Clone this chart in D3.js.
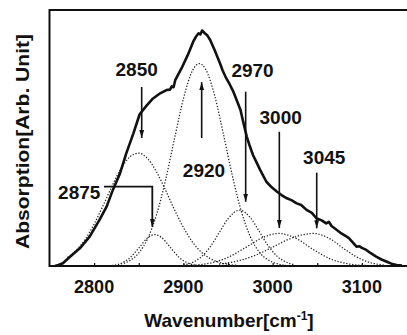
<!DOCTYPE html>
<html><head><meta charset="utf-8">
<script src="https://cdn.jsdelivr.net/npm/d3@7"></script>
<style>
html,body{margin:0;padding:0;background:#fff;}
svg{display:block;font-family:"Liberation Sans",Arial,Helvetica,sans-serif;font-weight:bold;}
</style>
</head><body>
<svg id="chart" width="407" height="335"></svg>
<script>
// ---------- data ----------
const xTicks = [2800, 2900, 3000, 3100];
const xTickLabels = ["2800", "2900", "3000", "3100"];
const xMinorTicks = [2850, 2950, 3050];

// measured spectrum (solid line)
const spectrumX = [2756,2760,2765,2773,2784,2795,2806,2814,2821,2829,2836,2844,2851,2859,2866,2874,2881,2885,2887,2889,2891,2898,2905,2911,2914,2917,2919,2921,2924,2927,2930,2935,2941,2944,2948,2952,2956,2960,2964,2967,2971,2974,2978,2982,2986,2993,2999,3005,3010,3016,3021,3027,3032,3038,3044,3049,3055,3060,3063,3066,3072,3077,3083,3086,3089,3094,3097,3100,3105,3110,3116,3122,3128,3133,3139,3145];
const spectrumY = [0,0.004,0.012,0.04,0.076,0.126,0.198,0.255,0.327,0.398,0.484,0.57,0.652,0.69,0.72,0.742,0.756,0.758,0.772,0.768,0.80,0.85,0.907,0.964,0.985,1.0,0.995,1.012,1.0,0.99,0.971,0.928,0.871,0.84,0.807,0.78,0.749,0.71,0.67,0.62,0.556,0.52,0.477,0.445,0.413,0.362,0.338,0.319,0.305,0.291,0.283,0.269,0.262,0.241,0.228,0.205,0.196,0.183,0.19,0.172,0.155,0.14,0.126,0.118,0.105,0.083,0.085,0.078,0.069,0.055,0.04,0.028,0.018,0.01,0.004,0.002];

// fitted component bands (dotted lines)
const band2850X = [2770,2780,2790,2800,2810,2820,2830,2840,2850,2860,2870,2880,2890,2900,2910,2920,2930,2940,2950,2960];
const band2850Y = [0.037,0.068,0.115,0.180,0.259,0.343,0.418,0.469,0.485,0.461,0.404,0.326,0.242,0.166,0.104,0.060,0.032,0.016,0.007,0.003];

const band2875X = [2820,2830,2840,2850,2860,2868,2875,2885,2895,2905,2915];
const band2875Y = [0.0025,0.011,0.035,0.077,0.121,0.135,0.124,0.082,0.038,0.013,0.003];

const band2920X = [2830,2840,2850,2860,2870,2880,2890,2900,2910,2918,2925,2935,2945,2955,2965,2975,2985,2995,3005,3015];
const band2920Y = [0.009,0.023,0.056,0.118,0.221,0.369,0.546,0.718,0.838,0.87,0.845,0.733,0.564,0.386,0.234,0.126,0.060,0.026,0.010,0.003];

const band2970X = [2900,2910,2920,2930,2940,2950,2963,2975,2985,2995,3005,3015,3025];
const band2970Y = [0.005,0.015,0.039,0.082,0.142,0.203,0.24,0.208,0.149,0.087,0.042,0.017,0.005];

const band3000X = [2910,2930,2950,2970,2990,3007,3025,3045,3065,3085,3105];
const band3000Y = [0.003,0.0125,0.037,0.080,0.124,0.14,0.121,0.072,0.030,0.009,0.002];

const band3045X = [2940,2960,2980,3000,3020,3046,3065,3080,3095,3110,3125];
const band3045Y = [0.008,0.021,0.045,0.081,0.118,0.14,0.115,0.074,0.037,0.014,0.004];

// annotations
const peakLabels = ["2850", "2920", "2970", "3000", "3045"];
const arrowX = [2853.3, 2920.5, 2969.8, 3007.5, 3049.4];
const arrowFrom = [0.769, 0.55, 0.749, 0.577, 0.401];
const arrowTo = [0.55, 0.79, 0.276, 0.163, 0.162];
const labelX = [2847.7, 2923.1, 2977.5, 3009, 3057.8];
const labelY = [0.816, 0.384, 0.814, 0.61, 0.438];

const elbowLabel = "2875";
const elbowLabelX = 2783.3, elbowLabelY = 0.287;
const elbowX = [2811, 2865.2, 2865.2];
const elbowY = [0.341, 0.341, 0.169];

// ---------- layout ----------
const svg = d3.select("#chart");
const x = d3.scaleLinear().domain([2750, 3150]).range([49.5, 406.5]);
const y = d3.scaleLinear().domain([0, 1.1]).range([266, 10]);

const defs = svg.append("defs");
defs.append("marker").attr("id", "ah")
  .attr("markerUnits", "userSpaceOnUse")
  .attr("markerWidth", 9).attr("markerHeight", 6)
  .attr("refX", 8).attr("refY", 3).attr("orient", "auto")
  .append("path").attr("d", "M0,0.6 L8,3 L0,5.4 Z").attr("fill", "#111");

// frame
svg.append("path")
  .attr("d", `M${x(3150)+4},${y.range()[1]} L${x(2750)},${y.range()[1]} L${x(2750)},${y(0)} L${x(3150)+4},${y(0)}`)
  .attr("fill", "none").attr("stroke", "#111").attr("stroke-width", 2);

// ticks
const xAxis = d3.axisBottom(x).tickValues(xTicks.concat(xMinorTicks)).tickSize(-3).tickFormat("");
const gx = svg.append("g").attr("transform", `translate(0,${y(0)})`).call(xAxis);
gx.select(".domain").remove();
gx.selectAll(".tick line").attr("stroke", "#111").attr("stroke-width", 1.2);

svg.append("g").selectAll("text").data(xTicks).join("text")
  .attr("x", d => x(d)).attr("y", 293)
  .attr("text-anchor", "middle").attr("font-size", 18).attr("fill", "#111")
  .text((d, i) => xTickLabels[i]);

// bands
const bands = [[band2850X, band2850Y],[band2875X, band2875Y],[band2920X, band2920Y],[band2970X, band2970Y],[band3000X, band3000Y],[band3045X, band3045Y]];
const line = d3.line().x(d => x(d[0])).y(d => y(d[1])).curve(d3.curveMonotoneX);
svg.append("g").selectAll("path").data(bands).join("path")
  .attr("d", b => line(b[0].map((v, i) => [v, b[1][i]])))
  .attr("fill", "none").attr("stroke", "#222").attr("stroke-width", 1.25)
  .attr("stroke-dasharray", "1.3,1.7");

// spectrum
const spec = spectrumX.map((v, i) => [v, spectrumY[i]]);
svg.append("path").attr("d", d3.line().x(d => x(d[0])).y(d => y(d[1]))(spec))
  .attr("fill", "none").attr("stroke", "#111").attr("stroke-width", 2.6)
  .attr("stroke-linejoin", "round");

// arrows
svg.append("g").selectAll("line").data(arrowX).join("line")
  .attr("x1", d => x(d)).attr("x2", d => x(d))
  .attr("y1", (d, i) => y(arrowFrom[i])).attr("y2", (d, i) => y(arrowTo[i]))
  .attr("stroke", "#111").attr("stroke-width", 1.6).attr("marker-end", "url(#ah)");

svg.append("g").selectAll("text").data(peakLabels).join("text")
  .attr("x", (d, i) => x(labelX[i])).attr("y", (d, i) => y(labelY[i]))
  .attr("text-anchor", "middle").attr("font-size", 19).attr("fill", "#111")
  .text(d => d);

// elbow arrow for 2875
svg.append("path")
  .attr("d", d3.line().x(d => x(d[0])).y(d => y(d[1]))(elbowX.map((v, i) => [v, elbowY[i]])))
  .attr("fill", "none").attr("stroke", "#111").attr("stroke-width", 1.8).attr("marker-end", "url(#ah)");
svg.append("text").attr("x", x(elbowLabelX)).attr("y", y(elbowLabelY))
  .attr("text-anchor", "middle").attr("font-size", 19).attr("fill", "#111").text(elbowLabel);

// axis titles
const xt = svg.append("text").attr("x", 229).attr("y", 326.5)
  .attr("text-anchor", "middle").attr("font-size", 19).attr("fill", "#111");
xt.append("tspan").text("Wavenumber[cm");
xt.append("tspan").attr("font-size", 12).attr("dy", -7).text("-1");
xt.append("tspan").attr("dy", 7).text("]");

svg.append("text").attr("transform", "translate(29,141.5) rotate(-90)")
  .attr("text-anchor", "middle").attr("font-size", 19).attr("fill", "#111")
  .attr("textLength", 215).attr("lengthAdjust", "spacingAndGlyphs")
  .text("Absorption[Arb. Unit]");
</script>
</body></html>
